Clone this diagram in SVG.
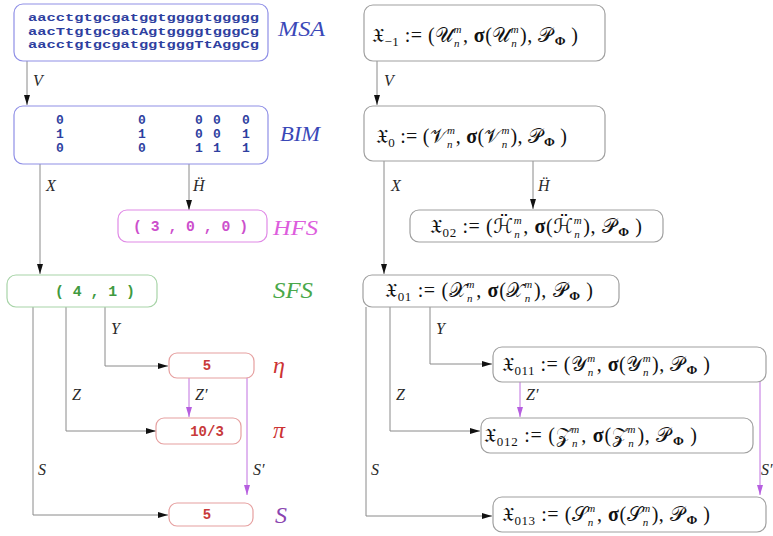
<svg xmlns="http://www.w3.org/2000/svg" width="773" height="536" viewBox="0 0 773 536">
  <style>
    .box{fill:#fff;stroke-width:1.2}
    .bl{stroke:#8f8fe6}
    .mg{stroke:#e08ae6}
    .gr{stroke:#a8d4a8}
    .rd{stroke:#e6a0a0}
    .gy{stroke:#a0a0a0}
    .mono{font-family:"Liberation Mono","DejaVu Sans Mono",monospace;font-weight:bold}
    .lab{font-family:"Liberation Serif","DejaVu Serif",serif;font-style:italic}
    .el{font-family:"Liberation Serif","DejaVu Serif",serif;font-style:italic;font-size:16px;fill:#2a2a2a}
    .mt{font-family:"Liberation Serif","DejaVu Serif","DejaVu Sans",serif;font-size:20px;fill:#111}
    .s1{font-size:13px}
    .s2{font-size:11px;font-style:italic}
    .b{font-weight:bold}
    .ln{fill:none;stroke:#8a8a8a;stroke-width:1}
    .lm{fill:none;stroke:#c070e0;stroke-width:1}
  </style>
  <defs>
    <marker id="ah" viewBox="0 0 10 6" refX="10" refY="3" markerWidth="10" markerHeight="6" markerUnits="userSpaceOnUse" orient="auto">
      <path d="M0,0 L10,3 L0,6 z" fill="#111"/>
    </marker>
    <marker id="am" viewBox="0 0 10 6" refX="10" refY="3" markerWidth="10" markerHeight="6" markerUnits="userSpaceOnUse" orient="auto">
      <path d="M0,0 L10,3 L0,6 z" fill="#b65ee0"/>
    </marker>
  </defs>
  <rect width="773" height="536" fill="#fff"/>

  <!-- connectors -->
  <g id="connectors">
    <!-- left column -->
    <path class="ln" d="M27,61 V105" marker-end="url(#ah)"/>
    <path class="ln" d="M40,164 V274" marker-end="url(#ah)"/>
    <path class="ln" d="M189,164 V210" marker-end="url(#ah)"/>
    <path class="ln" d="M105,307 V366 H168" marker-end="url(#ah)"/>
    <path class="ln" d="M66,307 V431 H156" marker-end="url(#ah)"/>
    <path class="ln" d="M33,307 V515 H168" marker-end="url(#ah)"/>
    <path class="lm" d="M189,377 V417" marker-end="url(#am)"/>
    <path class="lm" d="M247,377 V495" marker-end="url(#am)"/>
    <!-- right column -->
    <path class="ln" d="M377,61 V105" marker-end="url(#ah)"/>
    <path class="ln" d="M384,161 V274" marker-end="url(#ah)"/>
    <path class="ln" d="M533,161 V209" marker-end="url(#ah)"/>
    <path class="ln" d="M430,307 V364 H492" marker-end="url(#ah)"/>
    <path class="ln" d="M390,307 V431 H480" marker-end="url(#ah)"/>
    <path class="ln" d="M366,307 V516 H492" marker-end="url(#ah)"/>
    <path class="lm" d="M520,382 V417" marker-end="url(#am)"/>
    <path class="lm" d="M760,382 V495" marker-end="url(#am)"/>

    <!-- edge labels -->
    <text class="el" x="33" y="86">V</text>
    <text class="el" x="46" y="191">X</text>
    <text class="el" x="193" y="191">Ḧ</text>
    <text class="el" x="111" y="334">Y</text>
    <text class="el" x="72" y="400">Z</text>
    <text class="el" x="195" y="400">Z′</text>
    <text class="el" x="38" y="475">S</text>
    <text class="el" x="253" y="475">S′</text>
    <text class="el" x="384" y="86">V</text>
    <text class="el" x="391" y="191">X</text>
    <text class="el" x="538" y="191">Ḧ</text>
    <text class="el" x="436" y="334">Y</text>
    <text class="el" x="396" y="400">Z</text>
    <text class="el" x="526" y="400">Z′</text>
    <text class="el" x="371" y="475">S</text>
    <text class="el" x="761" y="475" font-size="14">S′</text>
  </g>

  <!-- left column: data objects -->
  <g id="msa">
    <rect class="box bl" x="14" y="4" width="254" height="57" rx="9"/>
    <g class="mono" font-size="11.5" fill="#2e3fa0">
      <text x="28" y="21" textLength="231" lengthAdjust="spacingAndGlyphs">aacctgtgcgatggtggggtggggg</text>
      <text x="28" y="34.5" textLength="231" lengthAdjust="spacingAndGlyphs">aacTtgtgcgatAgtggggtgggCg</text>
      <text x="28" y="48" textLength="231" lengthAdjust="spacingAndGlyphs">aacctgtgcgatggtgggTtAggCg</text>
    </g>
    <text class="lab" x="278" y="36" font-size="22" fill="#3a48b8" textLength="47" lengthAdjust="spacingAndGlyphs">MSA</text>
  </g>

  <g id="bim">
    <rect class="box bl" x="14" y="106" width="254" height="58" rx="9"/>
    <g class="mono" font-size="13" fill="#2e3fa0" text-anchor="middle">
      <text x="60" y="124">0</text><text x="60" y="138">1</text><text x="60" y="152">0</text>
      <text x="142" y="124">0</text><text x="142" y="138">1</text><text x="142" y="152">0</text>
      <text x="199" y="124">0</text><text x="199" y="138">0</text><text x="199" y="152">1</text>
      <text x="217" y="124">0</text><text x="217" y="138">0</text><text x="217" y="152">1</text>
      <text x="246" y="124">0</text><text x="246" y="138">1</text><text x="246" y="152">1</text>
    </g>
    <text class="lab" x="280" y="141" font-size="22" fill="#3a48b8" textLength="40" lengthAdjust="spacingAndGlyphs">BIM</text>
  </g>

  <g id="hfs">
    <rect class="box mg" x="118" y="210" width="149" height="32" rx="9"/>
    <text class="mono" x="133" y="231" font-size="14" fill="#cc4fcc" textLength="115" lengthAdjust="spacingAndGlyphs">( 3 , 0 , 0 )</text>
    <text class="lab" x="273" y="235" font-size="22" fill="#dd5ddd" textLength="45" lengthAdjust="spacingAndGlyphs">HFS</text>
  </g>

  <g id="sfs">
    <rect class="box gr" x="7" y="275" width="150" height="32" rx="9"/>
    <text class="mono" x="55" y="296" font-size="14" fill="#3f9a3f" textLength="80" lengthAdjust="spacingAndGlyphs">( 4 , 1 )</text>
    <text class="lab" x="273" y="298" font-size="23" fill="#4aa84a" textLength="40" lengthAdjust="spacingAndGlyphs">SFS</text>
  </g>

  <g id="eta">
    <rect class="box rd" x="169" y="353" width="85" height="25" rx="8"/>
    <text class="mono" x="207" y="370" font-size="14" fill="#c83a3a" text-anchor="middle">5</text>
    <text class="lab" x="273" y="373" font-size="24" fill="#cc3333">η</text>
  </g>

  <g id="pi">
    <rect class="box rd" x="156" y="418" width="85" height="26" rx="8"/>
    <text class="mono" x="207" y="436" font-size="14" fill="#c83a3a" text-anchor="middle">10/3</text>
    <text class="lab" x="273" y="438" font-size="24" fill="#cc3333">π</text>
  </g>

  <g id="s">
    <rect class="box rd" x="169" y="503" width="84" height="23" rx="8"/>
    <text class="mono" x="207" y="519" font-size="14" fill="#c83a3a" text-anchor="middle">5</text>
    <text class="lab" x="275" y="523" font-size="24" fill="#8a44b0">S</text>
  </g>

  <!-- right column: tuples -->
  <g id="x-1">
    <rect class="box gy" x="364" y="5" width="241" height="56" rx="9"/>
    <text class="mt" x="372" y="42" textLength="206" lengthAdjust="spacing"><tspan>𝔛</tspan><tspan class="s1" baseline-shift="-4">−1</tspan><tspan> := (</tspan><tspan>𝒰</tspan><tspan class="s2" baseline-shift="9">m</tspan><tspan class="s2" dx="-8" baseline-shift="-5">n</tspan><tspan dx="3">, </tspan><tspan class="b">σ</tspan><tspan>(𝒰</tspan><tspan class="s2" baseline-shift="9">m</tspan><tspan class="s2" dx="-8" baseline-shift="-5">n</tspan><tspan dx="3">), </tspan><tspan>𝒫</tspan><tspan class="s1 b" dx="2" baseline-shift="-3">Φ</tspan><tspan> )</tspan></text>
  </g>

  <g id="x0">
    <rect class="box gy" x="364" y="106" width="241" height="55" rx="9"/>
    <text class="mt" x="376" y="143" textLength="191" lengthAdjust="spacing"><tspan>𝔛</tspan><tspan class="s1" baseline-shift="-4">0</tspan><tspan> := (</tspan><tspan>𝒱</tspan><tspan class="s2" baseline-shift="9">m</tspan><tspan class="s2" dx="-8" baseline-shift="-5">n</tspan><tspan dx="3">, </tspan><tspan class="b">σ</tspan><tspan>(𝒱</tspan><tspan class="s2" baseline-shift="9">m</tspan><tspan class="s2" dx="-8" baseline-shift="-5">n</tspan><tspan dx="3">), </tspan><tspan>𝒫</tspan><tspan class="s1 b" dx="2" baseline-shift="-3">Φ</tspan><tspan> )</tspan></text>
  </g>

  <g id="x02">
    <rect class="box gy" x="410" y="210" width="253" height="32" rx="9"/>
    <text class="mt" x="430" y="233" textLength="212" lengthAdjust="spacing"><tspan>𝔛</tspan><tspan class="s1" baseline-shift="-4">02</tspan><tspan> := (</tspan><tspan>ℋ̈</tspan><tspan class="s2" baseline-shift="9">m</tspan><tspan class="s2" dx="-8" baseline-shift="-5">n</tspan><tspan dx="3">, </tspan><tspan class="b">σ</tspan><tspan>(ℋ̈</tspan><tspan class="s2" baseline-shift="9">m</tspan><tspan class="s2" dx="-8" baseline-shift="-5">n</tspan><tspan dx="3">), </tspan><tspan>𝒫</tspan><tspan class="s1 b" dx="2" baseline-shift="-3">Φ</tspan><tspan> )</tspan></text>
  </g>

  <g id="x01">
    <rect class="box gy" x="363" y="275" width="256" height="32" rx="9"/>
    <text class="mt" x="385" y="297" textLength="208" lengthAdjust="spacing"><tspan>𝔛</tspan><tspan class="s1" baseline-shift="-4">01</tspan><tspan> := (</tspan><tspan>𝒳</tspan><tspan class="s2" baseline-shift="9">m</tspan><tspan class="s2" dx="-8" baseline-shift="-5">n</tspan><tspan dx="3">, </tspan><tspan class="b">σ</tspan><tspan>(𝒳</tspan><tspan class="s2" baseline-shift="9">m</tspan><tspan class="s2" dx="-8" baseline-shift="-5">n</tspan><tspan dx="3">), </tspan><tspan>𝒫</tspan><tspan class="s1 b" dx="2" baseline-shift="-3">Φ</tspan><tspan> )</tspan></text>
  </g>

  <g id="x011">
    <rect class="box gy" x="493" y="347" width="273" height="35" rx="9"/>
    <text class="mt" x="502" y="371" textLength="208" lengthAdjust="spacing"><tspan>𝔛</tspan><tspan class="s1" baseline-shift="-4">011</tspan><tspan> := (</tspan><tspan>𝒴</tspan><tspan class="s2" baseline-shift="9">m</tspan><tspan class="s2" dx="-8" baseline-shift="-5">n</tspan><tspan dx="3">, </tspan><tspan class="b">σ</tspan><tspan>(𝒴</tspan><tspan class="s2" baseline-shift="9">m</tspan><tspan class="s2" dx="-8" baseline-shift="-5">n</tspan><tspan dx="3">), </tspan><tspan>𝒫</tspan><tspan class="s1 b" dx="2" baseline-shift="-3">Φ</tspan><tspan> )</tspan></text>
  </g>

  <g id="x012">
    <rect class="box gy" x="481" y="418" width="272" height="35" rx="9"/>
    <text class="mt" x="484" y="442" textLength="213" lengthAdjust="spacing"><tspan>𝔛</tspan><tspan class="s1" baseline-shift="-4">012</tspan><tspan> := (</tspan><tspan>𝒵</tspan><tspan class="s2" baseline-shift="9">m</tspan><tspan class="s2" dx="-8" baseline-shift="-5">n</tspan><tspan dx="3">, </tspan><tspan class="b">σ</tspan><tspan>(𝒵</tspan><tspan class="s2" baseline-shift="9">m</tspan><tspan class="s2" dx="-8" baseline-shift="-5">n</tspan><tspan dx="3">), </tspan><tspan>𝒫</tspan><tspan class="s1 b" dx="2" baseline-shift="-3">Φ</tspan><tspan> )</tspan></text>
  </g>

  <g id="x013">
    <rect class="box gy" x="493" y="497" width="273" height="35" rx="9"/>
    <text class="mt" x="502" y="521" textLength="208" lengthAdjust="spacing"><tspan>𝔛</tspan><tspan class="s1" baseline-shift="-4">013</tspan><tspan> := (</tspan><tspan>𝒮</tspan><tspan class="s2" baseline-shift="9">m</tspan><tspan class="s2" dx="-8" baseline-shift="-5">n</tspan><tspan dx="3">, </tspan><tspan class="b">σ</tspan><tspan>(𝒮</tspan><tspan class="s2" baseline-shift="9">m</tspan><tspan class="s2" dx="-8" baseline-shift="-5">n</tspan><tspan dx="3">), </tspan><tspan>𝒫</tspan><tspan class="s1 b" dx="2" baseline-shift="-3">Φ</tspan><tspan> )</tspan></text>
  </g>
</svg>
